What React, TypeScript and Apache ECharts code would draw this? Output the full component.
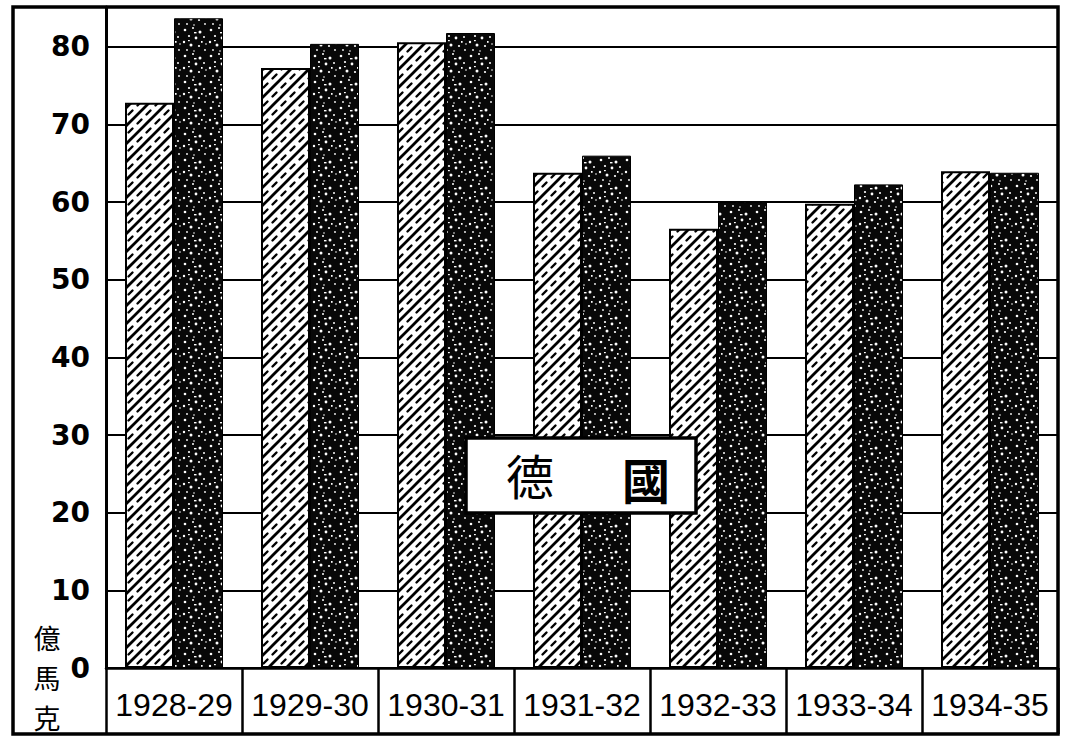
import React, { useEffect, useRef } from "react";
import * as echarts from "echarts";

// ---- data ----
const categories = ["1928-29", "1929-30", "1930-31", "1931-32", "1932-33", "1933-34", "1934-35"];
const hatchedValues = [72.8, 77.3, 80.6, 63.8, 56.6, 59.8, 64.0];
const darkValues = [83.7, 80.4, 81.8, 66.0, 60.0, 62.3, 63.8];
const yAxisMin = 0;
const yAxisMax = 85.15;
const yAxisStep = 10;
const unitChars = ["億", "馬", "克"];
const titleChars = ["德", "國"];

const svgUrl = (s: string) => "data:image/svg+xml;charset=utf-8," + encodeURIComponent(s);

const hatchTile = svgUrl(
  "<svg xmlns='http://www.w3.org/2000/svg' width='18' height='18'>" +
    "<rect width='18' height='18' fill='#ffffff'/>" +
    "<path d='M-4,22 L22,-4 M-4,4 L4,-4 M14,22 L22,14' stroke='#000' stroke-width='2.8' fill='none'/>" +
    "<path d='M11.5,15.5 L15.5,11.5 M2.5,6.5 L6.5,2.5' stroke='#000' stroke-width='2.4' stroke-linecap='round' fill='none'/>" +
    "</svg>"
);

const darkTile = svgUrl(
  "<svg xmlns='http://www.w3.org/2000/svg' width='26' height='26'>" +
    "<rect width='26' height='26' fill='#080808'/>" +
    "<g fill='#ffffff'>" +
    "<circle cx='3' cy='4' r='1.3'/>" +
    "<circle cx='11' cy='2' r='1.0'/>" +
    "<circle cx='18' cy='6' r='1.5'/>" +
    "<circle cx='7' cy='10' r='1.1'/>" +
    "<circle cx='14' cy='12' r='1.4'/>" +
    "<circle cx='22' cy='11' r='1.0'/>" +
    "<circle cx='2' cy='16' r='1.2'/>" +
    "<circle cx='9' cy='19' r='1.5'/>" +
    "<circle cx='17' cy='20' r='1.1'/>" +
    "<circle cx='23' cy='24' r='0.9'/>" +
    "<circle cx='5' cy='24' r='0.9'/>" +
    "<circle cx='12' cy='25' r='0.8'/>" +
    "<circle cx='24' cy='18' r='0.8'/>" +
    "<rect x='12' y='6' width='2.5' height='1.4'/>" +
    "<rect x='19' y='15' width='1.6' height='1.8'/>" +
    "<rect x='6' y='14' width='1.8' height='1.2'/>" +
    "</g>" +
    "</svg>"
);

const cjkFont = "'Noto Sans CJK TC', 'Noto Sans CJK SC', sans-serif";

export default function App() {
  const ref = useRef<HTMLDivElement>(null);

  useEffect(() => {
    document.body.style.margin = "0";
    const chart = echarts.init(ref.current!, null, { renderer: "svg" });
    const option: any = {
      animation: false,
      backgroundColor: "#ffffff",
      grid: { left: 106, right: 8, top: 7, bottom: 70, outerBoundsMode: "none", containLabel: false },
      xAxis: {
        type: "category",
        data: categories,
        axisLine: { show: true, lineStyle: { color: "#000", width: 2.5 } },
        axisTick: {
          show: true,
          alignWithLabel: false,
          interval: 0,
          inside: false,
          length: 66,
          lineStyle: { color: "#000", width: 2.5 },
        },
        axisLabel: {
          interval: 0,
          color: "#000",
          fontSize: 32,
          fontFamily: "'Liberation Sans', sans-serif",
          verticalAlign: "middle",
          margin: 37,
        },
        splitLine: { show: false },
      },
      yAxis: {
        type: "value",
        min: yAxisMin,
        max: yAxisMax,
        interval: yAxisStep,
        axisLine: { show: true, lineStyle: { color: "#000", width: 3 } },
        axisTick: { show: false },
        axisLabel: {
          color: "#000",
          fontSize: 28,
          fontWeight: "bold",
          fontFamily: "'DejaVu Sans', sans-serif",
          margin: 16,
          formatter: (v: number) => (Math.abs(v % yAxisStep) < 1e-6 ? String(v) : ""),
        },
        splitLine: { show: true, lineStyle: { color: "#000", width: 2 } },
      },
      series: [
        {
          name: "hatched",
          type: "bar",
          data: hatchedValues,
          barWidth: 49,
          barGap: "0%",
          itemStyle: {
            color: { image: hatchTile, repeat: "repeat", imageWidth: 18, imageHeight: 18 },
            borderColor: "#000",
            borderWidth: 2,
          },
          z: 3,
        },
        {
          name: "dark",
          type: "bar",
          data: darkValues,
          barWidth: 49,
          barGap: "0%",
          itemStyle: {
            color: { image: darkTile, repeat: "repeat", imageWidth: 26, imageHeight: 26 },
            borderColor: "#000",
            borderWidth: 1,
          },
          z: 3,
        },
      ],
      graphic: [
        {
          type: "rect",
          z: 100,
          silent: true,
          shape: { x: 13, y: 7, width: 1045, height: 727 },
          style: { fill: "none", stroke: "#000", lineWidth: 3.5 },
        },
        ...unitChars.map((ch, i) => ({
          type: "text",
          z: 100,
          x: 47,
          y: [637, 677, 717][i],
          style: {
            text: ch,
            fontSize: 27,
            lineHeight: 30,
            fontFamily: cjkFont,
            fill: "#000",
            align: "center",
            verticalAlign: "middle",
          },
        })),
        {
          type: "rect",
          z: 100,
          shape: { x: 466, y: 438, width: 230, height: 75 },
          style: { fill: "#fff", stroke: "#000", lineWidth: 3.5 },
        },
        {
          type: "text",
          z: 101,
          x: 530,
          y: 474,
          style: {
            text: titleChars[0],
            fontSize: 48,
            fontFamily: cjkFont,
            fill: "#000",
            align: "center",
            verticalAlign: "middle",
          },
        },
        {
          type: "text",
          z: 101,
          x: 646,
          y: 478,
          style: {
            text: titleChars[1],
            fontSize: 48,
            fontWeight: "bold",
            fontFamily: cjkFont,
            fill: "#000",
            align: "center",
            verticalAlign: "middle",
          },
        },
      ],
    };
    chart.setOption(option);
    return () => chart.dispose();
  }, []);

  return <div ref={ref} style={{ width: 1066, height: 738 }} />;
}
